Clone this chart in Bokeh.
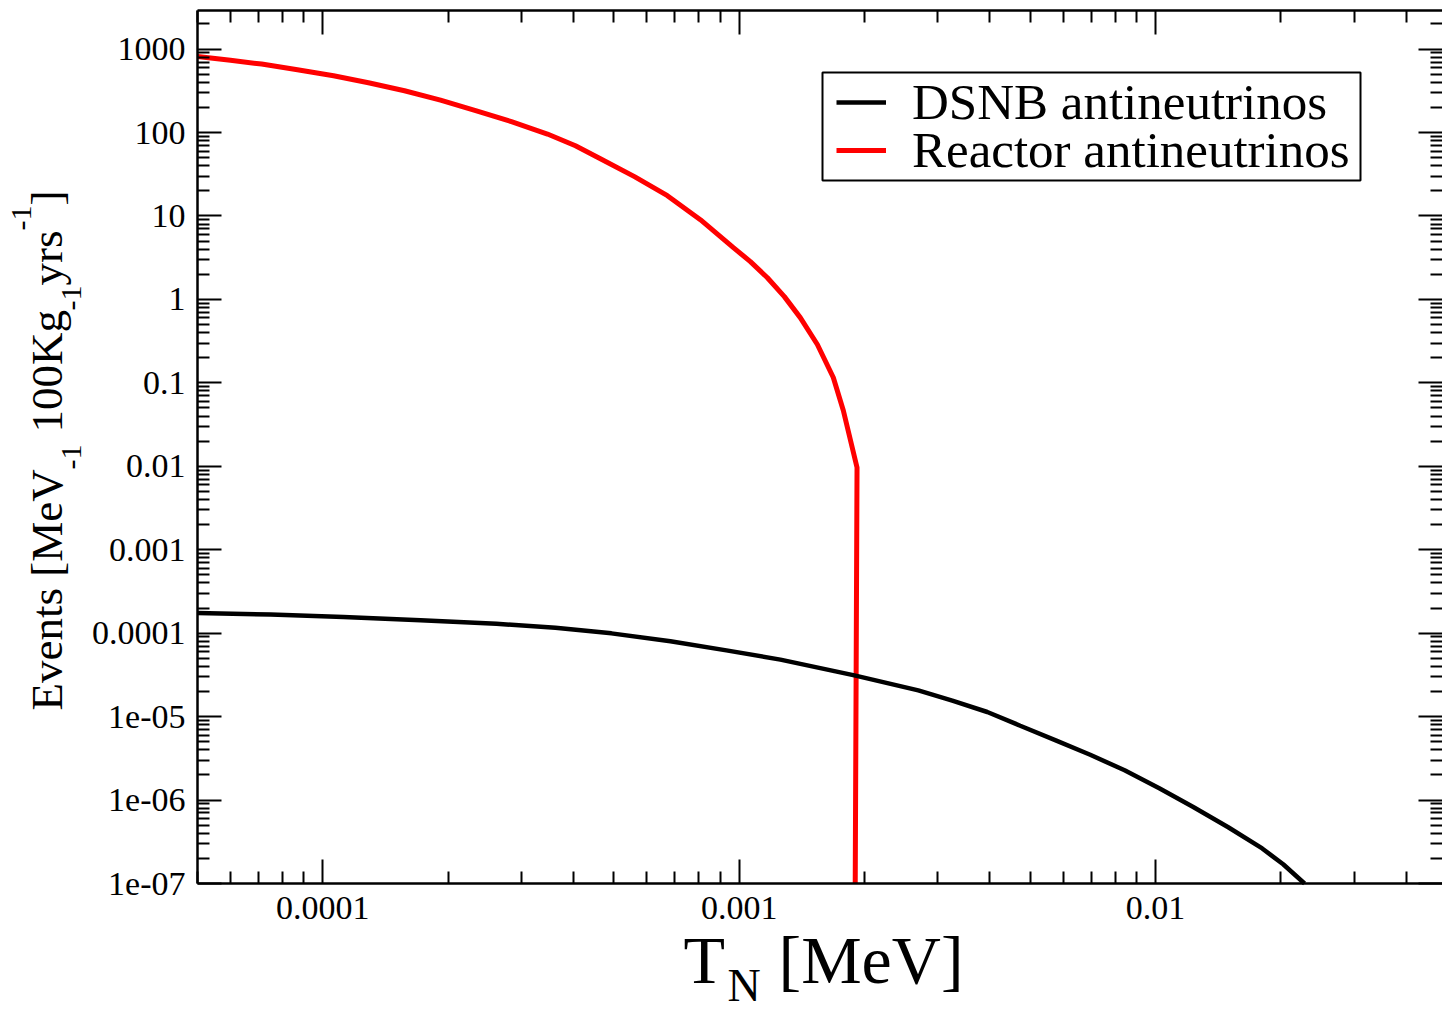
import math
from bokeh.plotting import figure
from bokeh.models import (Range1d, LogAxis, FixedTicker, CustomJSTickFormatter,
                          Label, Legend, LegendItem, BoxAnnotation)
from bokeh.embed import file_html
from bokeh.resources import INLINE

# ---------------- data ----------------
REACTOR_T = [5.0e-5, 6.00e-5, 7.13e-5, 8.69e-5, 1.061e-4, 1.287e-4, 1.571e-4, 1.917e-4,
             2.339e-4, 2.838e-4, 3.463e-4, 4.044e-4, 4.642e-4, 5.605e-4, 6.724e-4,
             8.068e-4, 9.685e-4, 1.064e-3, 1.169e-3, 1.284e-3, 1.402e-3, 1.541e-3,
             1.683e-3, 1.779e-3, 1.919e-3, 1.900e-3]
REACTOR_EVENTS = [815, 734, 661, 565, 479, 395, 317, 244,
                  182, 135, 95.9, 69.5, 48.6, 29.6, 17.5,
                  9.03, 4.17, 2.84, 1.82, 1.08, 0.605, 0.288,
                  0.116, 0.0466, 0.00967, 1e-7]

DSNB_T = [5.0e-5, 7.49e-5, 1.121e-4, 1.717e-4, 2.612e-4, 3.620e-4, 4.934e-4, 6.837e-4,
          9.318e-4, 1.256e-3, 1.891e-3, 2.693e-3, 3.250e-3, 3.944e-3, 4.732e-3,
          5.759e-3, 6.968e-3, 8.428e-3, 1.021e-2, 1.232e-2, 1.495e-2, 1.804e-2,
          2.026e-2, 2.28e-2]
DSNB_EVENTS = [1.740e-4, 1.670e-4, 1.559e-4, 1.431e-4, 1.299e-4, 1.161e-4, 9.95e-5, 8.02e-5,
               6.22e-5, 4.82e-5, 3.12e-5, 2.065e-5, 1.555e-5, 1.136e-5, 7.78e-6,
               5.20e-6, 3.49e-6, 2.275e-6, 1.385e-6, 8.27e-7, 4.72e-7, 2.63e-7,
               1.70e-7, 1.0e-7]

SERIES_LABELS = ["DSNB antineutrinos", "Reactor antineutrinos"]

X_TICKS = [1e-4, 1e-3, 1e-2]
X_TICK_LABELS = ["0.0001", "0.001", "0.01"]
Y_TICKS = [1e-7, 1e-6, 1e-5, 1e-4, 1e-3, 1e-2, 1e-1, 1, 10, 100, 1000]
Y_TICK_LABELS = ["1e-07", "1e-06", "1e-05", "0.0001", "0.001", "0.01", "0.1",
                 "1", "10", "100", "1000"]

X_MIN, X_MAX = 5e-5, 0.0489
Y_MIN, Y_MAX = 1e-7, 2900

FONT = "Liberation Serif"

# ---------------- layout (canvas pixels) ----------------
W, H = 1442, 1011
BOX_L, BOX_R, BOX_T, BOX_B = 197, 1442, 10, 883   # axes box inside the canvas

lx0, lx1 = math.log10(X_MIN), math.log10(X_MAX)
ly0, ly1 = math.log10(Y_MIN), math.log10(Y_MAX)
px_per_dec_x = (BOX_R - BOX_L) / (lx1 - lx0)
px_per_dec_y = (BOX_B - BOX_T) / (ly1 - ly0)
x_lo = 10 ** (lx0 - BOX_L / px_per_dec_x)
x_hi = 10 ** (lx1 + (W - BOX_R) / px_per_dec_x)
y_lo = 10 ** (ly0 - (H - BOX_B) / px_per_dec_y)
y_hi = 10 ** (ly1 + BOX_T / px_per_dec_y)


def minor_ticks(lo, hi):
    out = []
    for k in range(int(math.floor(math.log10(lo))) - 1, int(math.ceil(math.log10(hi))) + 1):
        for m in range(2, 10):
            v = m * 10.0 ** k
            if lo <= v <= hi:
                out.append(v)
    return out


def formatter(tick_values, tick_labels):
    return CustomJSTickFormatter(args=dict(tvals=tick_values, tlabs=tick_labels), code="""
        for (let i = 0; i < tvals.length; i++) {
            if (Math.abs(Math.log10(tvals[i]) - Math.log10(tick)) < 1e-6) return tlabs[i];
        }
        return "";
    """)


p = figure(width=W, height=H, x_axis_type="log", y_axis_type="log",
           x_range=Range1d(x_lo, x_hi), y_range=Range1d(y_lo, y_hi),
           x_axis_location=None, y_axis_location=None,
           output_backend="svg", toolbar_location=None, min_border=0)
p.grid.visible = False
p.outline_line_color = None
p.background_fill_color = "white"
p.border_fill_color = "white"

xt = FixedTicker(ticks=X_TICKS, minor_ticks=minor_ticks(X_MIN, X_MAX))
yt = FixedTicker(ticks=Y_TICKS, minor_ticks=minor_ticks(Y_MIN, Y_MAX))


def make_axis(ticker, loc, bounds, show_labels, tick_values=None, tick_labels=None):
    ax = LogAxis(ticker=ticker, fixed_location=loc, bounds=bounds)
    ax.axis_line_color = "black"
    ax.axis_line_width = 2.5
    ax.major_tick_in = 24
    ax.major_tick_out = 0
    ax.minor_tick_in = 12
    ax.minor_tick_out = 0
    ax.major_tick_line_color = "black"
    ax.major_tick_line_width = 2
    ax.minor_tick_line_color = "black"
    ax.minor_tick_line_width = 2
    if show_labels:
        ax.formatter = formatter(tick_values, tick_labels)
        ax.major_label_text_font = FONT
        ax.major_label_text_font_size = "34px"
        ax.major_label_text_color = "black"
    else:
        ax.formatter = CustomJSTickFormatter(code="return '';")
        ax.major_label_text_font_size = "2px"
        ax.major_label_standoff = 0
    return ax


r_red = p.line(REACTOR_T, REACTOR_EVENTS, line_color="#ff0000", line_width=5)
r_black = p.line(DSNB_T, DSNB_EVENTS, line_color="black", line_width=4.5)

bottom = make_axis(xt, Y_MIN, (X_MIN, X_MAX), True, X_TICKS, X_TICK_LABELS)
bottom.major_label_standoff = 13
p.add_layout(bottom, "below")
left = make_axis(yt, X_MIN, (Y_MIN, Y_MAX), True, Y_TICKS, Y_TICK_LABELS)
left.major_label_standoff = 12
p.add_layout(left, "left")
top = make_axis(xt, Y_MAX, (X_MIN, X_MAX), False)
p.add_layout(top, "above")
right = make_axis(yt, X_MAX, (Y_MIN, Y_MAX), False)
right.axis_line_color = None
p.add_layout(right, "right")

# legend frame
p.add_layout(BoxAnnotation(left=822, right=1360, top=H - 72, bottom=H - 180,
                           left_units="screen", right_units="screen",
                           top_units="screen", bottom_units="screen",
                           fill_color="white", fill_alpha=1.0,
                           line_color="black", line_width=2, line_alpha=1.0))


def legend_row(label, renderer, row_bottom):
    lg = Legend(items=[LegendItem(label=label, renderers=[renderer])],
                location=(836, H - row_bottom), label_text_font=FONT,
                label_text_font_size="51px", label_text_color="black",
                glyph_width=50, glyph_height=40, label_standoff=26,
                padding=0, spacing=0, margin=0,
                border_line_color=None, background_fill_alpha=0.0)
    p.add_layout(lg)


legend_row(SERIES_LABELS[0], r_black, 131)
legend_row(SERIES_LABELS[1], r_red, 179)


def lab(text, x, y, size, angle=0.0):
    p.add_layout(Label(text=text, x=x, y=y, x_units="screen", y_units="screen",
                       text_font=FONT, text_font_size=size, text_color="black",
                       text_align="left", text_baseline="alphabetic", angle=angle))


# x-axis title: T_N [MeV]
lab("T", 683, H - 982 + 23, "68px")
lab("N", 727, H - 1001 + 16, "46px")
lab("[MeV]", 778, H - 982 + 23, "68px")

# y-axis title: Events [MeV_-1 100Kg_-1 yrs^-1]
A = math.pi / 2
MX, SX, UX = 64 - 18, 83 - 12, 33 - 12
lab("Events [MeV", MX, H - 710, "45px", A)
lab("-1", SX, H - 469, "30px", A)
lab("100Kg", MX, H - 432, "45px", A)
lab("-1", SX, H - 310, "30px", A)
lab("yrs", MX, H - 285, "45px", A)
lab("-1", UX, H - 230, "30px", A)
lab("]", MX, H - 205, "45px", A)

open("out.html", "w").write(file_html(p, INLINE))
